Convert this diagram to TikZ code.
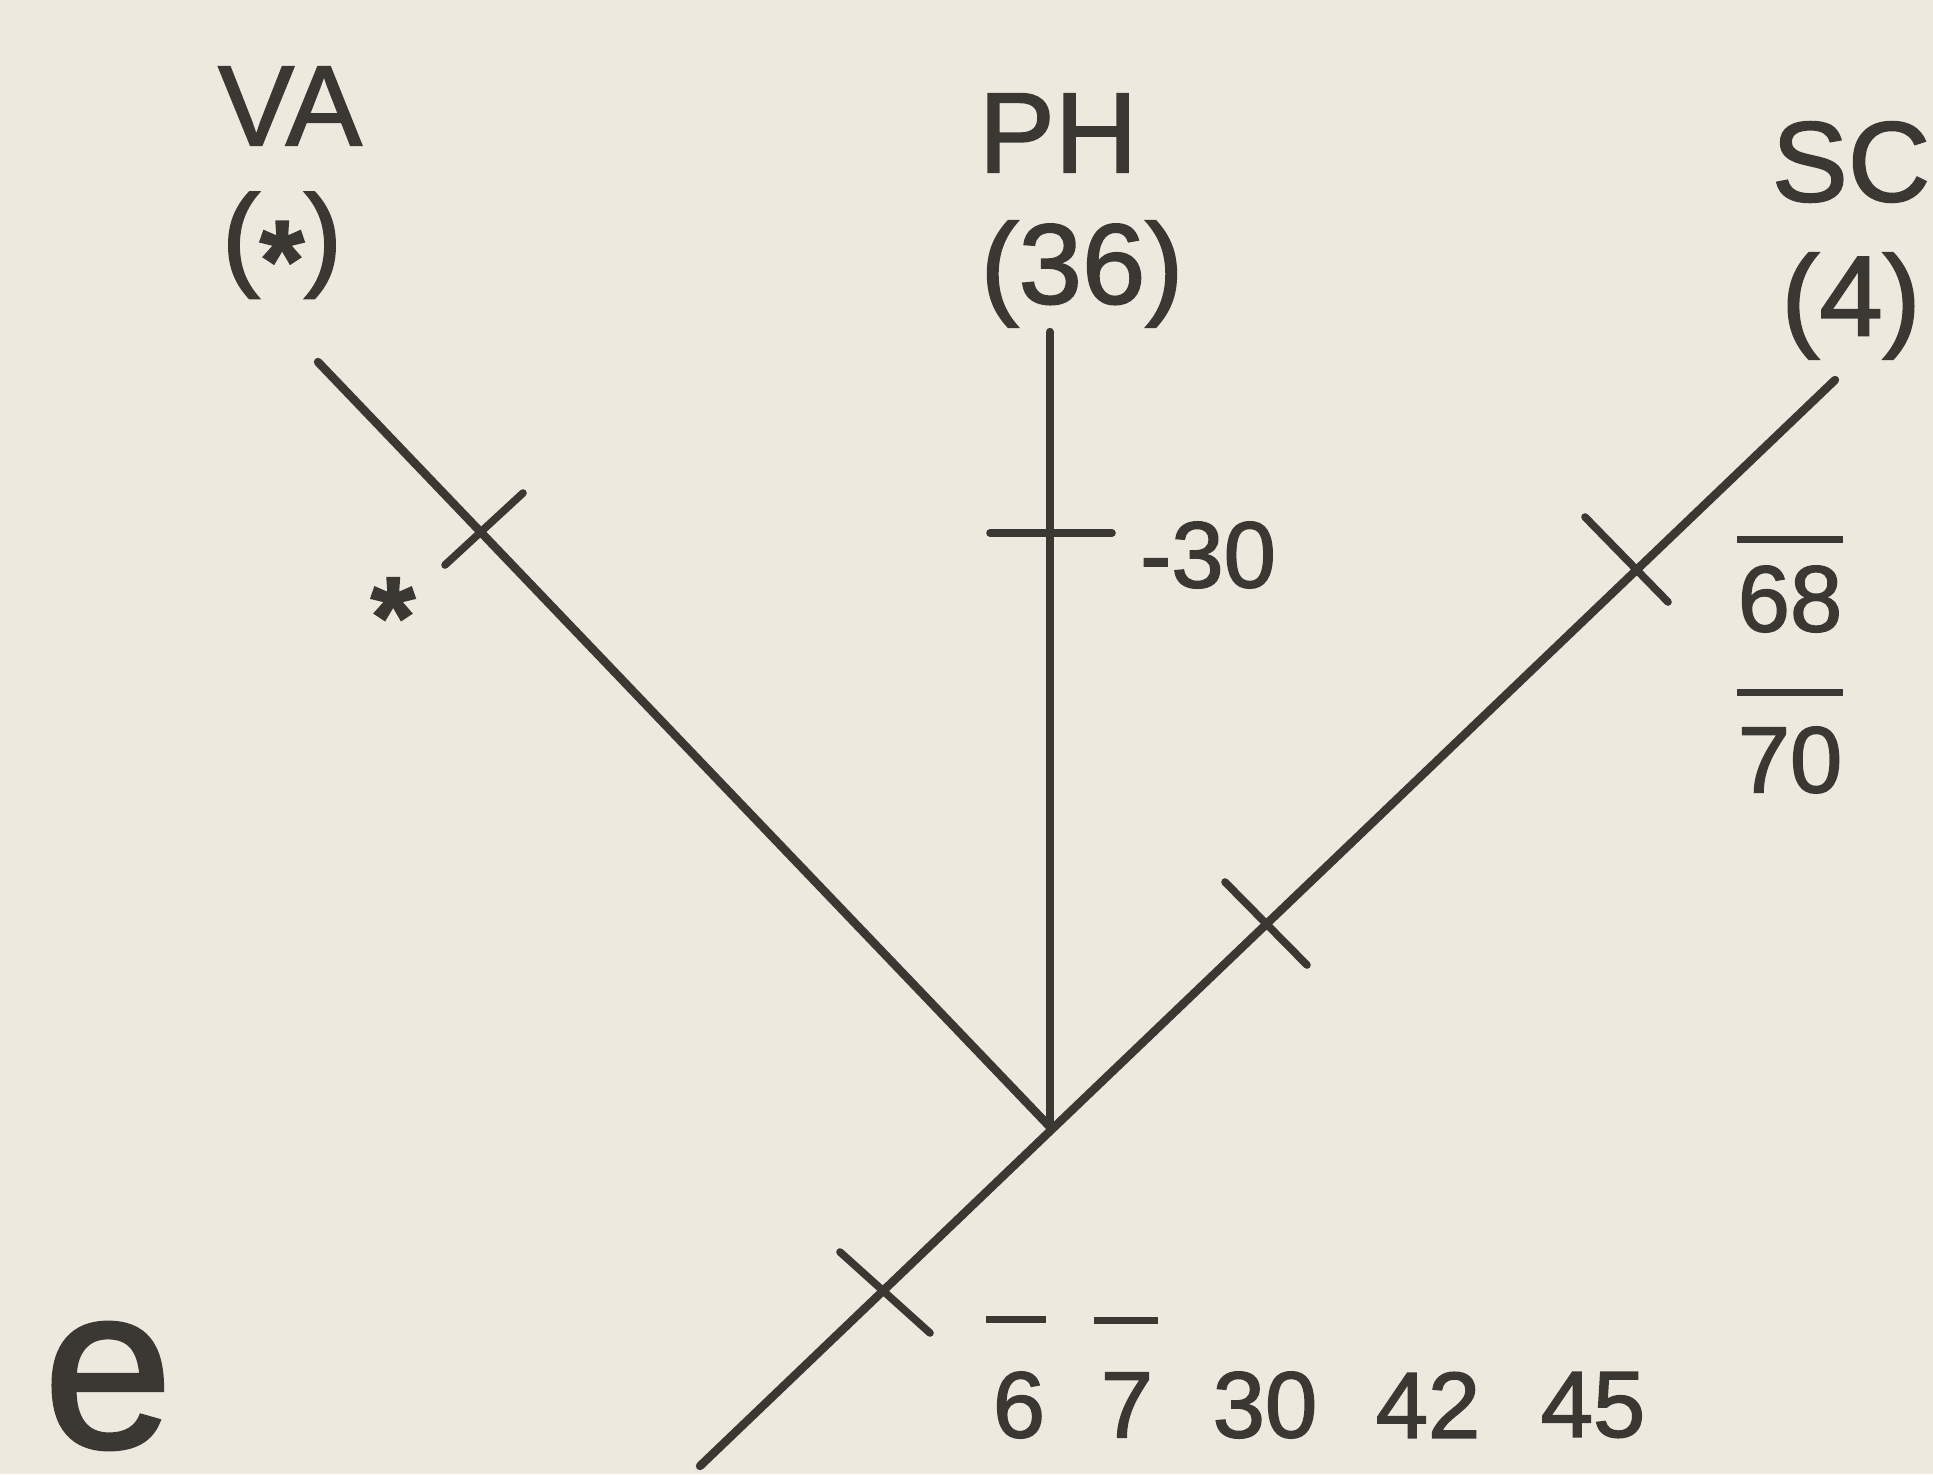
\documentclass[tikz,border=0pt]{standalone}
\usepackage{fontspec}
\setmainfont{Liberation Sans}
\newfontfamily\inkfont{Liberation Sans}[FakeBold=1.6]
\usetikzlibrary{calc}
\definecolor{paper}{HTML}{EEE9DF}
\definecolor{ink}{HTML}{3B3733}
\newcommand\stargl{\raisebox{-0.22em}{\textbf{*}}}
\begin{document}
\begin{tikzpicture}[x=0.5pt,y=-0.5pt,
  lab/.style={font=\inkfont\fontsize{57}{60}\selectfont, text=ink, inner sep=0pt},
  num/.style={font=\inkfont\fontsize{47}{50}\selectfont, text=ink, inner sep=0pt},
  big/.style={font=\inkfont\fontsize{116}{124}\selectfont, text=ink, inner sep=0pt},
  branch/.style={draw=ink, line width=4.2pt, line cap=round},
  tickmark/.style={draw=ink, line width=3.8pt, line cap=round},
  bar/.style={draw=ink, line width=3.4pt}]
\fill[paper] (0,0) rectangle (1933,1474);
\useasboundingbox (0,0) rectangle (1933,1474);

% taxon labels
\node[lab] (VA)  at (290,106) {VA};
\node[lab] (VAn) at (282,246) {(\stargl)};
\node[lab] (PH)  at (1058,133) {PH};
\node[lab] (PHn) at (1082,274) {(36)};
\node[lab] (SC)  at (1851,162) {SC};
\node[lab] (SCn) at (1851,306) {(4)};

% tree
\coordinate (J)     at (1050,1127);
\coordinate (VAtop) at (318,362);
\coordinate (PHtop) at (1050,332);
\coordinate (SCtop) at (1835,380);
\coordinate (SCbot) at (700,1466);
\draw[branch] (VAtop) -- (J);
\draw[branch] (PHtop) -- (J);
\draw[branch] (SCtop) -- (SCbot);

% character ticks
\draw[tickmark] (445,565) -- (523,493);
\draw[tickmark] (990,533) -- (1112,533);
\draw[tickmark] (1585,517) -- (1668,602);
\draw[tickmark] (1225,882) -- (1307,965);
\draw[tickmark] (840,1252) -- (930,1333);

% character labels
\node[lab] (st) at (393,617) {\stargl};
\node[num] (m30) at (1208,555) {-30};
\node[num] (n68) at (1790,599) {68};
\node[num] (n70) at (1790,760) {70};
\draw[bar] ($(n68.north west)+(0,-26)$) -- ($(n68.north east)+(0,-26)$);
\draw[bar] ($(n70.north west)+(0,-34)$) -- ($(n70.north east)+(0,-34)$);

\node[num] (n6)  at (1019,1405) {6};
\node[num] (n7)  at (1127,1405) {7};
\node[num] (n30) at (1265,1405) {30};
\node[num] (n42) at (1428,1405) {42};
\node[num] (n45) at (1593,1405) {45};
\draw[bar] ($(n6.north west)+(-6,-52)$) -- ($(n6.north east)+(0,-52)$);
\draw[bar] ($(n7.north west)+(-6,-52)$) -- ($(n7.north east)+(4,-52)$);

\node[big] (e) at (108,1386) {e};
\end{tikzpicture}
\end{document}
